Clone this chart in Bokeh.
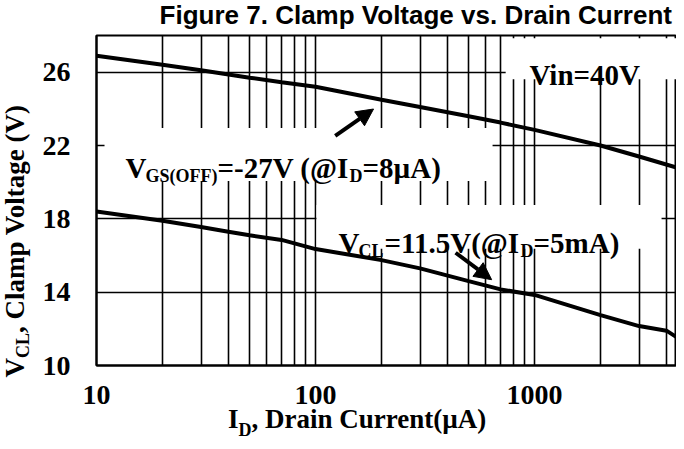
import math
from bokeh.plotting import figure
from bokeh.models import Label, BoxAnnotation, Arrow, NormalHead, FixedTicker, Div
from bokeh.layouts import column, row
from bokeh.embed import file_html
from bokeh.resources import INLINE

# ---- data ----
current_upper = [10, 20, 30, 50, 70, 100, 200, 300, 500, 700, 1000, 2000, 3000, 4446]
vcl_upper = [26.9, 26.4, 26.1, 25.7, 25.45, 25.2, 24.5, 24.1, 23.6, 23.25, 22.85, 22.0, 21.4, 20.8]
current_lower = [10, 20, 30, 40, 50, 70, 100, 200, 300, 500, 700, 1000, 2000, 3000, 4000, 4446]
vcl_lower = [18.4, 17.9, 17.55, 17.3, 17.1, 16.85, 16.35, 15.75, 15.3, 14.6, 14.15, 13.85, 12.75, 12.15, 11.9, 11.55]
x_major = [10, 100, 1000]
x_major_labels = ["10", "100", "1000"]
x_minor = [20, 30, 40, 50, 60, 70, 80, 90, 200, 300, 400, 500, 600, 700, 800, 900, 2000, 3000, 4000]
y_ticks = [10, 14, 18, 22, 26]
x_limits = (10, 4446)
y_limits = (10, 28)

TITLE = "Figure 7. Clamp Voltage vs. Drain Current"

SERIF = "Liberation Serif"
SANS = "Liberation Sans"

p = figure(width=638, height=386, x_axis_type="log", x_range=x_limits, y_range=y_limits,
           output_backend="svg", toolbar_location=None,
           min_border_left=58, min_border_right=0, min_border_top=2, min_border_bottom=54)
p.background_fill_color = "white"
p.border_fill_color = "white"
p.outline_line_color = "black"
p.outline_line_width = 2

# axes
p.xaxis.ticker = FixedTicker(ticks=x_major, minor_ticks=x_minor)
p.xaxis.major_label_overrides = {v: s for v, s in zip(x_major, x_major_labels)}
p.yaxis.ticker = FixedTicker(ticks=y_ticks)
for ax in (p.xaxis, p.yaxis):
    ax.axis_line_color = "black"
    ax.axis_line_width = 2
    ax.major_tick_line_color = None
    ax.minor_tick_line_color = None
    ax.major_tick_out = 0
    ax.minor_tick_out = 0
    ax.major_tick_in = 0
    ax.minor_tick_in = 0
    ax.major_label_text_font = SERIF
    ax.major_label_text_font_style = "bold"
    ax.major_label_text_font_size = "28px"
    ax.major_label_text_color = "black"
p.xaxis.major_label_standoff = 20
p.yaxis.major_label_standoff = 26

# grid
for g in (p.xgrid, p.ygrid):
    g.grid_line_color = "black"
    g.grid_line_width = 1.6
    g.grid_line_alpha = 1
    g.level = "image"
p.xgrid.minor_grid_line_color = "black"
p.xgrid.minor_grid_line_width = 1.6

# white label boxes covering the grid
def wbox(l, r, b, t):
    bx = BoxAnnotation(left=l, right=r, bottom=b, top=t, fill_color="white", fill_alpha=1,
                       line_alpha=0, level="underlay", editable=False)
    p.add_layout(bx)

wbox(738, 10000, 25.62, 27.85)
wbox(10.88, 643, 20.07, 22.95)
wbox(101, 3800, 16.37, 18.76)

# curves
p.line(current_upper, vcl_upper, line_color="black", line_width=4)
p.line(current_lower, vcl_lower, line_color="black", line_width=4)

# arrows
for xs, ys, xe, ye in [(123, 22.52, 184, 23.99), (436, 16.15, 637, 14.68)]:
    p.add_layout(Arrow(end=NormalHead(size=17, fill_color="black", line_color="black"),
                       x_start=xs, y_start=ys, x_end=xe, y_end=ye,
                       line_color="black", line_width=4))

def rich(x, y, pieces):
    for txt, size, dx, dy in pieces:
        p.add_layout(Label(x=x, y=y, x_offset=dx, y_offset=dy, text=txt,
                           text_font=SERIF, text_font_style="bold",
                           text_font_size=f"{size}px", text_color="black",
                           text_baseline="alphabetic", text_align="left"))

rich(948, 25.84, [("Vin=40V", 29, 0, 0)])
rich(13.56, 20.78, [("V", 29, 0, 0), ("GS(OFF)", 18, 20, -8), ("=-27V (@I", 29, 92, 0),
                    ("D", 18, 224, -8), ("=8µA)", 29, 237, 0)])
rich(127.4, 16.69, [("V", 29, 0, 0), ("CL", 18, 20, -8), ("=11.5V(@I", 29, 46, 0),
                    ("D", 18, 182, -8), ("=5mA)", 29, 195, 0)])

# ---- titles as HTML text around the figure ----
CSS = [":host { overflow: visible !important; } div { overflow: visible !important; }"]
SUB = "font-size:18px; vertical-align:-8px; line-height:0;"
SERIF_CSS = "font-family:'Liberation Serif'; font-weight:bold; font-size:27px; line-height:27px; color:black;"

title_div = Div(
    text=(f"<div style=\"width:672px; text-align:right; white-space:nowrap; position:relative; top:6px; "
          f"font-family:'Liberation Sans'; font-weight:bold; font-size:26px; line-height:18px; color:black;\">"
          f"{TITLE}</div>"),
    width=676, height=33, margin=0, stylesheets=CSS)

ytitle_div = Div(
    text=(f"<div style=\"position:relative; left:2px; top:72px; height:max-content; white-space:nowrap; "
          f"writing-mode:vertical-rl; transform:rotate(180deg); {SERIF_CSS}\">"
          f"V<span style=\"{SUB}\">CL</span>, Clamp Voltage (V)</div>"),
    width=38, height=386, margin=0, stylesheets=CSS)

xtitle_div = Div(
    text=(f"<div style=\"position:relative; left:228px; top:-13px; width:max-content; white-space:nowrap; "
          f"{SERIF_CSS}\">I<span style=\"{SUB}\">D</span>, Drain Current(µA)</div>"),
    width=676, height=22, margin=0, stylesheets=CSS)

layout = column(title_div, row(ytitle_div, p, spacing=0), xtitle_div, spacing=0)

open("out.html", "w").write(file_html(layout, INLINE))
